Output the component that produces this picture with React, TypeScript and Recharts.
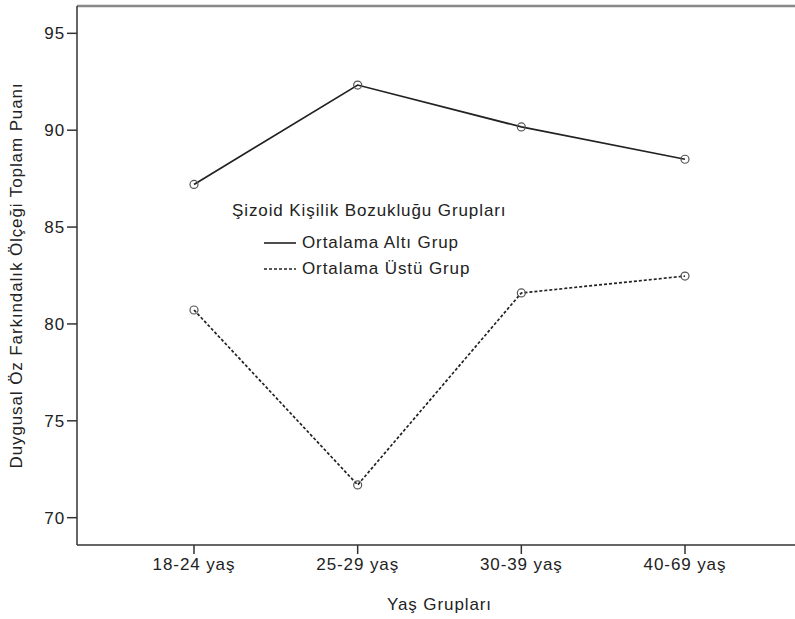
import React from "react";
import { LineChart, Line, XAxis, YAxis, Legend, ReferenceLine } from "recharts";

const categories = ["18-24 yaş", "25-29 yaş", "30-39 yaş", "40-69 yaş"];
const altiGrup = [87.2, 92.33, 90.17, 88.5];
const ustuGrup = [80.72, 71.69, 81.6, 82.47];
const yTicks = [70, 75, 80, 85, 90, 95];
const seriesNames = ["Ortalama Altı Grup", "Ortalama Üstü Grup"];
const legendTitle = "Şizoid Kişilik Bozukluğu Grupları";
const xTitle = "Yaş Grupları";
const yTitle = "Duygusal Öz Farkındalık Ölçeği Toplam Puanı";

const Y_MIN = 68.59;
const Y_MAX = 96.41;

const data = categories.map((c, i) => ({ cat: c, alti: altiGrup[i], ustu: ustuGrup[i] }));

const FONT = "'Liberation Sans', Arial, sans-serif";
const TEXT = "#222";
const FS = 17;
const LS = 0.9;

const LegendContent = (props: any) => {
  const payload = props.payload || [];
  return (
    <div style={{ fontFamily: FONT, fontSize: FS, letterSpacing: LS, color: TEXT, lineHeight: "26px" }}>
      <div style={{ marginBottom: 6 }}>{legendTitle}</div>
      {payload.map((p: any, i: number) => (
        <div key={i} style={{ display: "flex", alignItems: "center", marginLeft: 32, height: 26 }}>
          <svg width={34} height={10} style={{ marginRight: 4 }}>
            <line x1={0} y1={5} x2={32} y2={5} stroke="#222" strokeWidth={1.6}
              strokeDasharray={i === 1 ? "3 2" : undefined} />
          </svg>
          <span>{p.value}</span>
        </div>
      ))}
    </div>
  );
};

const YLabel = (props: any) => {
  const vb = props.viewBox || {};
  const cy = vb.y + vb.height / 2;
  return (
    <text x={22} y={cy} transform={`rotate(-90, 22, ${cy})`} textAnchor="middle"
      fontSize={FS} letterSpacing={LS} fill={TEXT} fontFamily={FONT}>
      {yTitle}
    </text>
  );
};

const XLabel = (props: any) => {
  const vb = props.viewBox || {};
  const cx = vb.x + vb.width / 2;
  return (
    <text x={cx} y={610} textAnchor="middle" fontSize={FS} letterSpacing={LS} fill={TEXT} fontFamily={FONT}>
      {xTitle}
    </text>
  );
};

export default function App() {
  return (
    <div style={{ position: "absolute", left: 0, top: 0, width: 795, height: 619, overflow: "hidden", background: "#fff" }}>
      <LineChart width={810} height={619} data={data}
        margin={{ top: 6, right: 8, bottom: 0, left: 8 }}
        style={{ fontFamily: FONT }}>
        <XAxis dataKey="cat" padding={{ left: 117, right: 117 }} height={74}
          tickSize={9} tickMargin={4} stroke="#333" strokeWidth={1.5}
          tick={{ fill: TEXT, fontSize: FS, fontFamily: FONT, letterSpacing: LS }}
          tickLine={{ stroke: "#333", strokeWidth: 1.5 }}
          label={<XLabel />} />
        <YAxis type="number" domain={[Y_MIN, Y_MAX]} ticks={yTicks} width={69}
          allowDataOverflow tickSize={10} tickMargin={2} stroke="#333" strokeWidth={1.5}
          tick={{ fill: TEXT, fontSize: FS, fontFamily: FONT, letterSpacing: LS }}
          tickLine={{ stroke: "#333", strokeWidth: 1.5 }}
          label={<YLabel />} />
        <ReferenceLine y={Y_MAX} stroke="#888" strokeWidth={2.5} ifOverflow="extendDomain" />
        <Legend content={<LegendContent />} layout="horizontal" verticalAlign="middle" align="center"
          wrapperStyle={{ position: "absolute", left: 232, top: 198, width: 320 }} />
        <Line dataKey="alti" name={seriesNames[0]} stroke="#222" strokeWidth={1.7}
          dot={{ r: 4, stroke: "#555", strokeWidth: 1.2, fill: "none" }} isAnimationActive={false} />
        <Line dataKey="ustu" name={seriesNames[1]} stroke="#222" strokeWidth={1.7} strokeDasharray="3 2"
          dot={{ r: 4, stroke: "#555", strokeWidth: 1.2, fill: "none", strokeDasharray: "0" }} isAnimationActive={false} />
      </LineChart>
    </div>
  );
}
